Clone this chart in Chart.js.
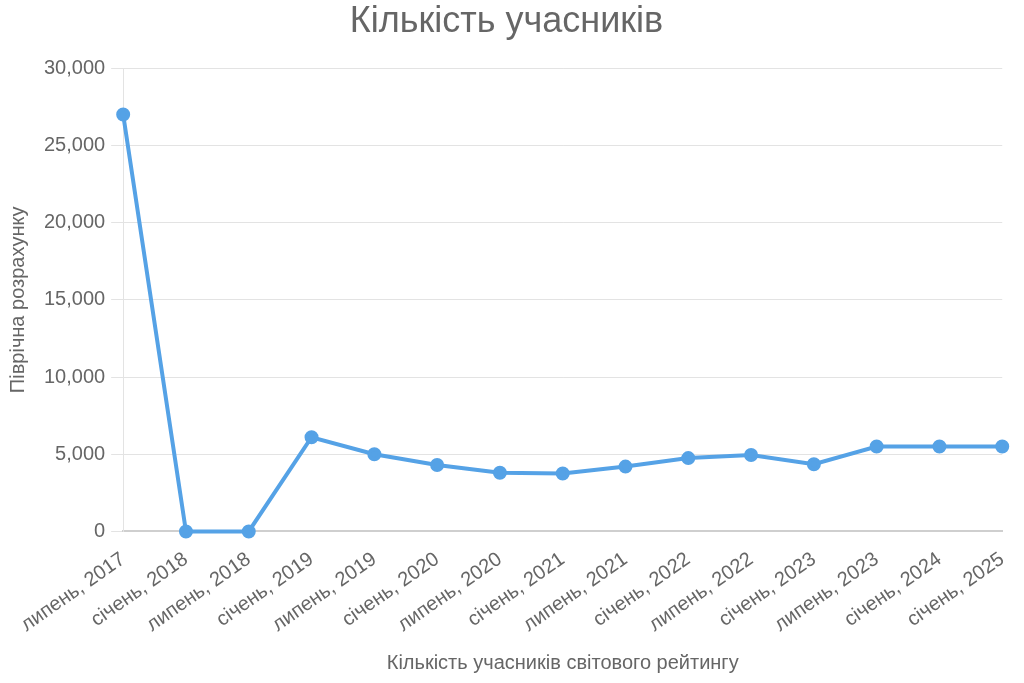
<!DOCTYPE html>
<html>
<head>
<meta charset="utf-8">
<script src="https://cdn.jsdelivr.net/npm/chart.js@4"></script>
<style>
  html, body { margin: 0; padding: 0; background: #fff; }
  #wrap { width: 1024px; height: 683px; }
</style>
</head>
<body>
<div id="wrap"><canvas id="chart"></canvas></div>
<script>
const labels = [
  'липень, 2017', 'січень, 2018', 'липень, 2018', 'січень, 2019', 'липень, 2019',
  'січень, 2020', 'липень, 2020', 'січень, 2021', 'липень, 2021', 'січень, 2022',
  'липень, 2022', 'січень, 2023', 'липень, 2023', 'січень, 2024', 'січень, 2025',
];
const participants = [
  27000, 0, 0, 6100, 5000,
  4300, 3800, 3750, 4200, 4750,
  4950, 4350, 5500, 5500, 5500,
];
const yTicks = [0, 5000, 10000, 15000, 20000, 25000, 30000];

const lineColor = '#55a2e6';
const textColor = '#666';

Chart.defaults.font.family = '"Liberation Sans", Arial, sans-serif';
Chart.defaults.color = textColor;

new Chart(document.getElementById('chart'), {
  type: 'line',
  data: {
    labels,
    datasets: [
      {
        label: 'Кількість учасників',
        data: participants,
        borderColor: lineColor,
        backgroundColor: lineColor,
        borderWidth: 4,
        pointRadius: 5,
        pointHoverRadius: 6,
        tension: 0,
        clip: false,
      },
    ],
  },
  options: {
    responsive: true,
    maintainAspectRatio: false,
    animation: false,
    layout: { padding: { left: 2, right: 13, top: 0, bottom: 4 } },
    plugins: {
      legend: { display: false },
      title: {
        display: true,
        text: 'Кількість учасників',
        font: { size: 36, weight: 'normal' },
        color: textColor,
        padding: { top: 0, bottom: 25 },
      },
    },
    scales: {
      x: {
        offset: false,
        // invisible grid, kept only for the tick length gap under the axis
        grid: { color: 'transparent', tickLength: 8 },
        border: { display: true, color: '#cfcfcf', width: 2 },
        ticks: {
          font: { size: 20 },
          color: textColor,
          maxRotation: 35,
          minRotation: 35,
          padding: 8,
        },
        title: {
          display: true,
          text: 'Кількість учасників світового рейтингу',
          font: { size: 20 },
          color: textColor,
          padding: { top: 6 },
        },
      },
      y: {
        min: 0,
        max: 30000,
        afterBuildTicks: (axis) => {
          axis.ticks = yTicks.map((v) => ({ value: v }));
        },
        grid: { color: '#e3e3e3', tickLength: 12 },
        border: { display: true, color: '#e3e3e3' },
        ticks: {
          font: { size: 20 },
          color: textColor,
          padding: 6,
          callback: (v) => v.toLocaleString('en-US'),
        },
        title: {
          display: true,
          text: 'Піврічна розрахунку',
          font: { size: 20 },
          color: textColor,
          padding: { bottom: 8 },
        },
      },
    },
  },
});
</script>
</body>
</html>
